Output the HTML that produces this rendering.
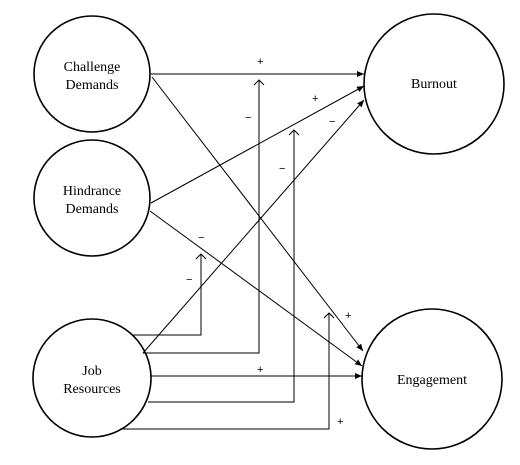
<!DOCTYPE html>
<html><head><meta charset="utf-8"><style>
html,body{margin:0;padding:0;background:#fff;}
svg{display:block;}
text{font-family:"Liberation Serif",serif;font-size:14px;fill:#000;}
.s{font-family:"Liberation Sans",sans-serif;font-size:11px;}
</style></head><body>
<svg width="520" height="465" viewBox="0 0 520 465">
<defs>
<marker id="f" markerWidth="8" markerHeight="8" refX="7" refY="4" orient="auto" markerUnits="userSpaceOnUse">
<path d="M0,1 L7,4 L0,7 Z" fill="#000"/></marker>
<marker id="o" markerWidth="12" markerHeight="10" refX="6" refY="1" orient="0" markerUnits="userSpaceOnUse">
<path d="M1,6 L6,1 L11,6" fill="none" stroke="#000" stroke-width="1"/></marker>
</defs>
<g fill="none" stroke="#000" stroke-width="1.6">
<circle cx="92" cy="74" r="58"/>
<circle cx="92" cy="198" r="58"/>
<circle cx="92" cy="378" r="59"/>
<circle cx="434" cy="84" r="70"/>
<circle cx="432" cy="379" r="70"/>
</g>
<g fill="none" stroke="#000" stroke-width="1">
<line x1="151" y1="74" x2="364" y2="74" marker-end="url(#f)"/>
<line x1="152" y1="77" x2="363" y2="351" marker-end="url(#f)"/>
<line x1="151" y1="203" x2="364" y2="86" marker-end="url(#f)"/>
<line x1="150" y1="211" x2="362" y2="366" marker-end="url(#f)"/>
<line x1="143" y1="353" x2="364" y2="100" marker-end="url(#f)"/>
<line x1="151" y1="376" x2="362" y2="376" marker-end="url(#f)"/>
<polyline points="133,335 201,335 201,254" marker-end="url(#o)"/>
<polyline points="143,353 259,353 259,80" marker-end="url(#o)"/>
<polyline points="148,402 294,402 294,130" marker-end="url(#o)"/>
<polyline points="120,429 329,429 329,313" marker-end="url(#o)"/>
</g>
<text x="92" y="71" text-anchor="middle">Challenge</text>
<text x="92" y="89" text-anchor="middle">Demands</text>
<text x="92" y="195" text-anchor="middle">Hindrance</text>
<text x="92" y="213" text-anchor="middle">Demands</text>
<text x="92" y="375" text-anchor="middle">Job</text>
<text x="92" y="393" text-anchor="middle">Resources</text>
<text x="434" y="88" text-anchor="middle">Burnout</text>
<text x="432" y="384" text-anchor="middle">Engagement</text>
<g class="s">
<text x="257" y="65" class="s">+</text>
<text x="312" y="102" class="s">+</text>
<text x="245" y="121" class="s">−</text>
<text x="329" y="125" class="s">−</text>
<text x="279" y="172" class="s">−</text>
<text x="198" y="241" class="s">−</text>
<text x="186" y="283" class="s">−</text>
<text x="345" y="319" class="s">+</text>
<text x="257" y="373" class="s">+</text>
<text x="337" y="425" class="s">+</text>
</g>
</svg>
</body></html>
